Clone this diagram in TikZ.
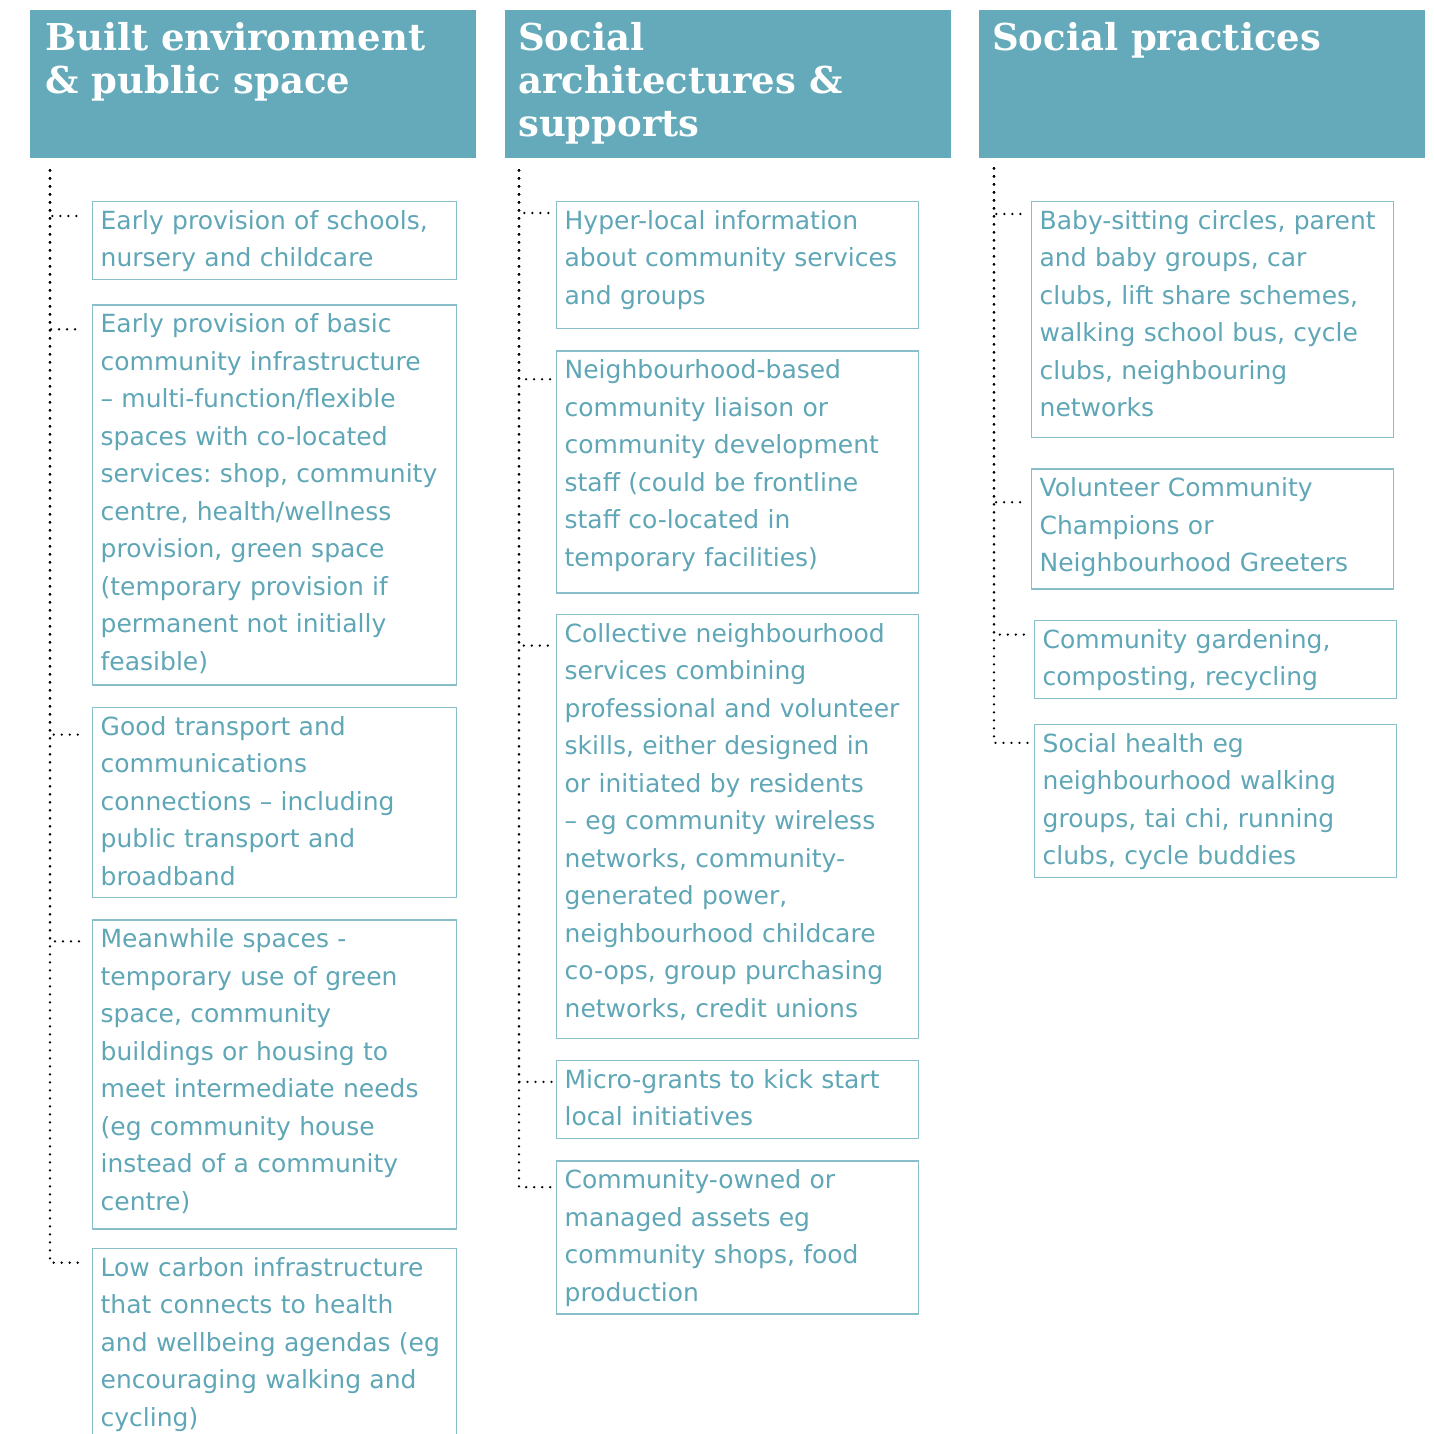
\documentclass[tikz,border=0pt]{standalone}
\usepackage{fontspec}
\setmainfont{DejaVu Sans}
\newfontfamily\headfont{DejaVu Serif}
\usetikzlibrary{positioning}
\frenchspacing

\definecolor{headfill}{HTML}{64AABA}
\definecolor{itemtext}{HTML}{5FA6B6}
\definecolor{itemline}{HTML}{88BFCB}

\tikzset{
  head/.style={fill=headfill, minimum width=446pt, minimum height=148pt,
    anchor=north west, inner sep=0pt},
  headtext/.style={anchor=north west, align=left, text=white, inner sep=0pt,
    font=\headfont\bfseries\fontsize{37}{43}\selectfont},
  item/.style={draw=itemline, line width=1.3pt, text=itemtext,
    text width=348pt, inner xsep=8pt, inner ysep=1.5pt, align=left,
    font=\fontsize{25}{37.5}\selectfont,
    execute at begin node=\strut,
    execute at end node={\rule[-\dimexpr 11.25pt+#1\relax]{0pt}{1pt}}},
  item/.default=0pt,
  tree/.style={line width=2.6pt, dash pattern=on 0pt off 8pt, line cap=round}
}

\begin{document}
\begin{tikzpicture}[x=1pt, y=1pt, node distance=21pt]
  \useasboundingbox (0,0) rectangle (1433,-1434);

  % headers
  \node[head] (h1) at (30,-10) {};
  \node[head] (h2) at (505,-10) {};
  \node[head] (h3) at (979,-10) {};
  \node[headtext] (h1t) at ([xshift=15pt,yshift=-12pt]h1.north west) {Built environment\\\& public space};
  \node[headtext] (h2t) at ([xshift=13pt,yshift=-12pt]h2.north west) {Social\\architectures \&\\supports};
  \node[headtext] (h3t) at ([xshift=13pt,yshift=-12pt]h3.north west) {Social practices};

  % built environment
  \node[item, anchor=north west] (b11) at (92,-201) {Early provision of schools,\\nursery and childcare};
  \node[item=2pt, below=24pt of b11] (b12) {Early provision of basic\\community infrastructure\\– multi-function/flexible\\spaces with co-located\\services: shop, community\\centre, health/wellness\\provision, green space\\(temporary provision if\\permanent not initially\\feasible)};
  \node[item, below=of b12] (b13) {Good transport and\\communications\\connections – including\\public transport and\\broadband};
  \node[item=6pt, below=of b13] (b14) {Meanwhile spaces -\\temporary use of green\\space, community\\buildings or housing to\\meet intermediate needs\\(eg community house\\instead of a community\\centre)};
  \node[item, below=18pt of b14] (b15) {Low carbon infrastructure\\that connects to health\\and wellbeing agendas (eg\\encouraging walking and\\cycling)};

  % social architectures
  \node[item=11.5pt, anchor=north west, text width=346pt] (b21) at (556,-201) {Hyper-local information\\about community services\\and groups};
  \node[item=14pt, text width=346pt, below=of b21] (b22) {Neighbourhood-based\\community liaison or\\community development\\staff (could be frontline\\staff co-located in\\temporary facilities)};
  \node[item=8.5pt, text width=346pt, below=20pt of b22] (b23) {Collective neighbourhood\\services combining\\professional and volunteer\\skills, either designed in\\or initiated by residents\\– eg community wireless\\networks, community-\\generated power,\\neighbourhood childcare\\co-ops, group purchasing\\networks, credit unions};
  \node[item, text width=346pt, below=of b23] (b24) {Micro-grants to kick start\\local initiatives};
  \node[item, text width=346pt, below=of b24] (b25) {Community-owned or\\managed assets eg\\community shops, food\\production};

  % social practices
  \node[item=8pt, anchor=north west, text width=346pt] (b31) at (1031,-201) {Baby-sitting circles, parent\\and baby groups, car\\clubs, lift share schemes,\\walking school bus, cycle\\clubs, neighbouring\\networks};
  \node[item=4.5pt, text width=346pt, below=30pt of b31] (b32) {Volunteer Community\\Champions or\\Neighbourhood Greeters};
  \node[item, text width=346pt, below=30pt of b32, xshift=3pt] (b33) {Community gardening,\\composting, recycling};
  \node[item, text width=346pt, below=25pt of b33] (b34) {Social health eg\\neighbourhood walking\\groups, tai chi, running\\clubs, cycle buddies};

  % dotted trees
  \coordinate (t1) at ([xshift=20pt,yshift=-12pt]h1.south west);
  \coordinate (t2) at ([xshift=14pt,yshift=-12pt]h2.south west);
  \coordinate (t3) at ([xshift=15pt,yshift=-10pt]h3.south west);
  \draw[tree] (t1) |- ([xshift=-12pt,yshift=-15pt]b11.north west);
  \draw[tree] (t1) |- ([xshift=-12pt,yshift=-25pt]b12.north west);
  \draw[tree] (t1) |- ([xshift=-12pt,yshift=-28pt]b13.north west);
  \draw[tree] (t1) |- ([xshift=-12pt,yshift=-22pt]b14.north west);
  \draw[tree] (t1) |- ([xshift=-12pt,yshift=-15pt]b15.north west);
  \draw[tree] (t2) |- ([xshift=-3pt,yshift=-12pt]b21.north west);
  \draw[tree] (t2) |- ([xshift=-3pt,yshift=-29pt]b22.north west);
  \draw[tree] (t2) |- ([xshift=-3pt,yshift=-32pt]b23.north west);
  \draw[tree] (t2) |- ([xshift=-3pt,yshift=-22pt]b24.north west);
  \draw[tree] (t2) |- ([xshift=-3pt,yshift=-27pt]b25.north west);
  \draw[tree] (t3) |- ([xshift=-3pt,yshift=-13pt]b31.north west);
  \draw[tree] (t3) |- ([xshift=-3pt,yshift=-34pt]b32.north west);
  \draw[tree] (t3) |- ([xshift=-6pt,yshift=-15pt]b33.north west);
  \draw[tree] (t3) |- ([xshift=-6pt,yshift=-19pt]b34.north west);
\end{tikzpicture}
\end{document}
